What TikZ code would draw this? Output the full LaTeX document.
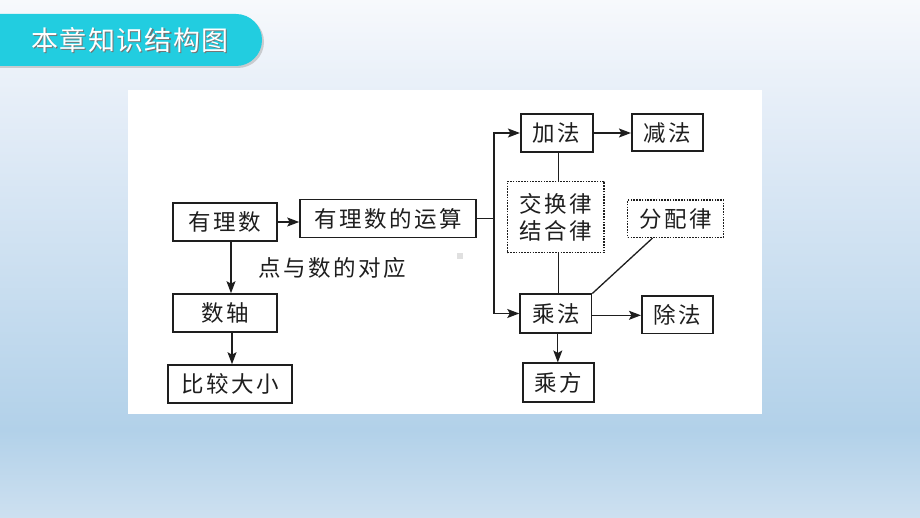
\documentclass[tikz,border=0pt]{standalone}
\usepackage{fontspec}
\newfontfamily\cjk[LetterSpace=11]{Noto Sans CJK SC}
\newfontfamily\cjktitle[LetterSpace=5]{Noto Sans CJK SC}
\usetikzlibrary{arrows.meta,calc}
\definecolor{bgtop}{HTML}{F7F9FC}
\definecolor{bgmid}{HTML}{E6EEF8}
\definecolor{bglow}{HTML}{B2D1E9}
\definecolor{bgbot}{HTML}{CDE0F0}
\definecolor{banner}{HTML}{22CDE0}
\definecolor{ink}{HTML}{1E1E1E}
\tikzset{
  box/.style={draw=ink, line width=1.6pt, rectangle, inner sep=0pt, font=\cjk\fontsize{22.5}{26}\selectfont, text=ink},
  dbox/.style={box, dash pattern=on 1.6pt off 1.2pt, line width=1.3pt},
  arr/.style={draw=ink, line width=1.3pt, -{Stealth[length=12pt,width=9pt,inset=2.5pt]}},
  ln/.style={draw=ink, line width=1.3pt},
}
\begin{document}
\begin{tikzpicture}[x=1pt,y=-1pt]
\useasboundingbox (0,0) rectangle (920,518);
% background
\shade[top color=bgtop, bottom color=bgmid] (0,0) rectangle (920,100);
\shade[top color=bgmid, bottom color=bglow] (0,100) rectangle (920,430);
\shade[top color=bglow, bottom color=bgbot] (0,430) rectangle (920,518);
% banner
\fill[black!35, opacity=0.5] (-5,16) [rounded corners=26pt] -- (264,16) -- (264,68) [sharp corners] -- (-5,68) -- cycle;
\fill[banner] (-5,14) [rounded corners=26pt] -- (262,14) -- (262,66) [sharp corners] -- (-5,66) -- cycle;
\node[text=black!55, font=\cjktitle\fontsize{27}{29}\selectfont] (titles) at (131.2,41.2) {本章知识结构图};
\node[text=white, font=\cjktitle\fontsize{27}{29}\selectfont] (title) at (130,40) {本章知识结构图};
% white panel
\fill[white] (128,90) rectangle (762,414);
\fill[black!12] (457,253) rectangle (463,259);
% nodes
\node[box, minimum width=104pt, minimum height=38pt] (r1) at (225,222) {有理数};
\node[box, minimum width=176pt, minimum height=38pt] (r2) at (388,218.5) {有理数的运算};
\node[box, minimum width=104pt, minimum height=38pt] (zz) at (225,313) {数轴};
\node[box, minimum width=124pt, minimum height=38pt] (bj) at (230,384) {比较大小};
\node[font=\cjk\fontsize{22.5}{26}\selectfont, text=ink] (lab) at (332,268) {点与数的对应};
\node[box, minimum width=72pt, minimum height=37.5pt] (jf) at (556.7,133) {加法};
\node[box, minimum width=71.5pt, minimum height=37pt] (jian) at (667.5,132.5) {减法};
\node[dbox, minimum width=96.5pt, minimum height=71.5pt, align=center] (jh) at (555.7,217) {交换律\\[1pt]结合律};
\node[dbox, minimum width=95.5pt, minimum height=37.5pt] (fp) at (675.5,218.7) {分配律};
\node[box, minimum width=71.5pt, minimum height=38.5pt] (cf) at (555.8,313.5) {乘法};
\node[box, minimum width=71.5pt, minimum height=37.5pt] (cu) at (677.5,314.7) {除法};
\node[box, minimum width=71.5pt, minimum height=38.5pt] (cfang) at (558.5,382.5) {乘方};
% helper coordinates
\coordinate (xa) at (231,0);
\coordinate (xb) at (232,0);
\coordinate (bx) at (494,0);
\coordinate (xc) at (558.3,0);
\coordinate (fpb) at ($(fp.south)+(-23,0)$);
% connectors
\draw[arr] (r1.east) -- (r1.east -| r2.west);
\draw[arr] (r1.south -| xa) -- (zz.north -| xa);
\draw[arr] (zz.south -| xb) -- (bj.north -| xb);
\draw[ln] (r2.east) -- (r2.east -| bx);
\draw[arr] (r2.east -| bx) |- (jf.west);
\draw[arr] (r2.east -| bx) |- (cf.west);
\draw[arr] (jf.east) -- (jf.east -| jian.west);
\draw[ln] (jf.south -| xc) -- (jh.north -| xc);
\draw[ln] (jh.south -| xc) -- (cf.north -| xc);
\draw[ln] (cf.north east) -- (fpb);
\draw[arr] ([yshift=-1.8pt]cf.east) -- ([yshift=-1.8pt]cf.east -| cu.west);
\draw[arr] ([xshift=2pt]cf.south) -- ([xshift=2pt]cf.south |- cfang.north);
\end{tikzpicture}
\end{document}
